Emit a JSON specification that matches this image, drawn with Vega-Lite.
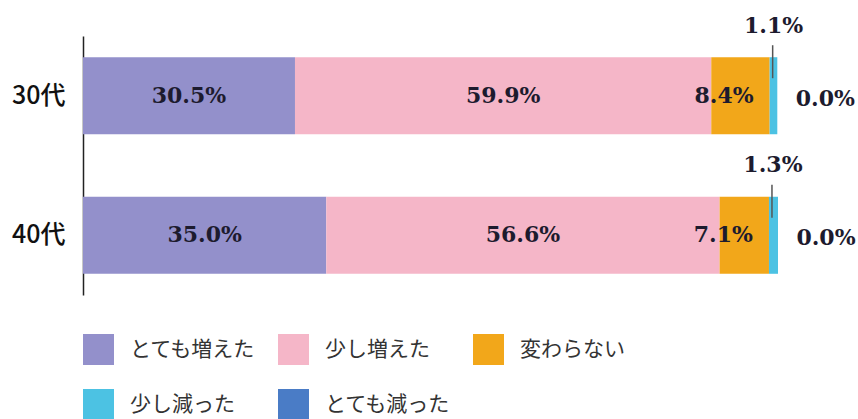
{
  "$schema": "https://vega.github.io/schema/vega-lite/v6.json",
  "width": 695,
  "height": 259,
  "autosize": {"type": "none"},
  "padding": {"left": 83, "top": 36, "right": 80, "bottom": 124},
  "background": "white",
  "config": {"view": {"stroke": null}, "font": "Noto Sans CJK JP"},
  "data": {
    "values": [
      {"age": "30代", "category": "とても増えた", "order": 1, "value": 30.5, "label": "30.5%"},
      {"age": "30代", "category": "少し増えた", "order": 2, "value": 59.9, "label": "59.9%"},
      {"age": "30代", "category": "変わらない", "order": 3, "value": 8.4, "label": "8.4%"},
      {"age": "30代", "category": "少し減った", "order": 4, "value": 1.1, "label": "1.1%"},
      {"age": "30代", "category": "とても減った", "order": 5, "value": 0.0, "label": "0.0%"},
      {"age": "40代", "category": "とても増えた", "order": 1, "value": 35.0, "label": "35.0%"},
      {"age": "40代", "category": "少し増えた", "order": 2, "value": 56.6, "label": "56.6%"},
      {"age": "40代", "category": "変わらない", "order": 3, "value": 7.1, "label": "7.1%"},
      {"age": "40代", "category": "少し減った", "order": 4, "value": 1.3, "label": "1.3%"},
      {"age": "40代", "category": "とても減った", "order": 5, "value": 0.0, "label": "0.0%"}
    ]
  },
  "transform": [
    {"stack": "value", "groupby": ["age"], "sort": [{"field": "order", "order": "ascending"}], "as": ["start", "end"]}
  ],
  "encoding": {
    "y": {
      "field": "age",
      "type": "nominal",
      "title": null,
      "scale": {"paddingInner": 0.448, "paddingOuter": 0.152},
      "axis": {
        "ticks": false,
        "domainColor": "#222",
        "domainWidth": 1.5,
        "labelFontSize": 25,
        "labelFontWeight": 500,
        "labelColor": "#111",
        "labelFont": "Noto Sans CJK JP",
        "labelPadding": 18,
        "grid": false
      }
    }
  },
  "layer": [
    {
      "mark": {"type": "bar", "opacity": 1},
      "encoding": {
        "x": {"field": "start", "type": "quantitative", "scale": {"domain": [0, 100]}, "axis": null},
        "x2": {"field": "end"},
        "color": {
          "field": "category",
          "type": "nominal",
          "scale": {
            "domain": ["とても増えた", "少し増えた", "変わらない", "少し減った", "とても減った"],
            "range": ["#9390cb", "#f5b6c8", "#f2a71a", "#4cc2e3", "#4a7cc6"]
          },
          "legend": {
            "title": null,
            "orient": "bottom",
            "direction": "horizontal",
            "columns": 3,
            "symbolType": "square",
            "symbolSize": 961,
            "symbolStrokeWidth": 0,
            "symbolOpacity": 1,
            "labelFont": "Noto Sans CJK JP",
            "labelFontSize": 21,
            "labelColor": "#333",
            "labelOffset": 16,
            "labelLimit": 300,
            "columnPadding": 22,
            "rowPadding": 24,
            "offset": 39
          }
        }
      }
    },
    {
      "mark": {"type": "text", "font": "DejaVu Serif", "fontWeight": "bold", "fontSize": 22, "color": "#1d1b2e", "baseline": "middle"},
      "encoding": {
        "x": {"field": "value", "type": "quantitative", "stack": "zero", "bandPosition": 0.5},
        "order": {"field": "order", "type": "quantitative"},
        "text": {"condition": {"test": "datum.order <= 2", "field": "label"}, "value": ""}
      }
    },
    {
      "transform": [{"filter": "datum.order == 3"}],
      "mark": {"type": "text", "font": "DejaVu Serif", "fontWeight": "bold", "fontSize": 22, "color": "#1d1b2e", "baseline": "middle", "align": "right", "dx": -16},
      "encoding": {
        "x": {"field": "end", "type": "quantitative"},
        "text": {"field": "label"}
      }
    },
    {
      "transform": [{"filter": "datum.order == 4"}],
      "mark": {"type": "text", "font": "DejaVu Serif", "fontWeight": "bold", "fontSize": 22, "color": "#1d1b2e", "baseline": "middle", "dy": -70, "dx": 4},
      "encoding": {
        "x": {"field": "start", "type": "quantitative"},
        "text": {"field": "label"}
      }
    },
    {
      "transform": [{"filter": "datum.order == 4"}],
      "mark": {"type": "tick", "size": 33, "thickness": 1.5, "yOffset": -34, "xOffset": 3, "color": "#555", "opacity": 1},
      "encoding": {
        "x": {"field": "start", "type": "quantitative"}
      }
    },
    {
      "transform": [{"filter": "datum.order == 5"}],
      "mark": {"type": "text", "font": "DejaVu Serif", "fontWeight": "bold", "fontSize": 22, "color": "#1d1b2e", "baseline": "middle", "dx": 48, "dy": 3},
      "encoding": {
        "x": {"field": "end", "type": "quantitative"},
        "text": {"field": "label"}
      }
    }
  ]
}
